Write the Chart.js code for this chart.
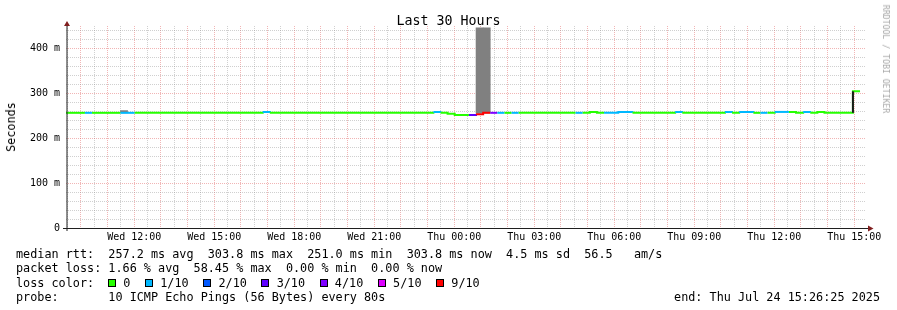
<!DOCTYPE html>
<html>
<head>
<meta charset="utf-8">
<script src="https://cdn.jsdelivr.net/npm/chart.js@4.4.1/dist/chart.umd.min.js"></script>
<style>
    html, body { margin: 0; padding: 0; background: #fff; }
    #wrap { position: relative; width: 897px; height: 310px; overflow: hidden;
            font-family: "DejaVu Sans Mono", monospace; color: #000; }
    #chart { position: absolute; left: 0; top: 0; }
    .txt { position: absolute; white-space: pre; }
    #title { left: 0; width: 897px; top: 12.5px; text-align: center; font-size: 13.3px; line-height: 16px; }
    .vert { transform: translate(-50%, -50%) rotate(-90deg); }
    #ylabel { left: 11px; top: 127px; font-size: 11.8px; line-height: 14px; }
    #credit { left: 886px; top: 59px; font-size: 8.2px; line-height: 10px; color: #a8a8a8;
              transform: translate(-50%, -50%) rotate(90deg); }
    .leg { left: 16px; font-size: 11.8px; line-height: 14px; }
    .items { position: absolute; left: 92px; top: 0; display: flex; }
    .item { margin-right: 14.5px; }
    .box { display: inline-block; width: 6px; height: 6px; border: 1px solid #000; margin-right: 7.3px; }
    #end { right: 17px; font-size: 11.8px; line-height: 14px; }
</style>
</head>
<body>
<div id="wrap">
    <canvas id="chart" width="897" height="310"></canvas>
    <div class="txt" id="title">Last 30 Hours</div>
    <div class="txt vert" id="ylabel">Seconds</div>
    <div class="txt" id="credit">RRDTOOL / TOBI OETIKER</div>
    <div class="txt leg" id="leg1" style="top: 247px"></div>
    <div class="txt leg" id="leg2" style="top: 261.3px"></div>
    <div class="txt leg" id="leg3" style="top: 275.5px"></div>
    <div class="txt leg" id="leg4" style="top: 289.8px"></div>
    <div class="txt" id="end" style="top: 289.8px"></div>
</div>
<script>

// time axis in hours counted from Wed Jul 23 00:00
const startHour = 9 + 26 / 60 + 25 / 3600;    // Wed 09:26:25
const endHour = 39 + 26 / 60 + 25 / 3600;     // Thu 15:26:25
const firstSample = 9 + 21 / 60;              // Wed 09:21
const sampleMinutes = 16;

// median rtt per sample (ms)
const medianMs = [
    256, 256, 256, 256, 256, 256, 256, 256, 256, 256,
    256, 256, 256, 256, 256, 256, 256, 256, 256, 256,
    256, 256, 256, 256, 256, 256, 256, 256, 258, 256,
    256, 256, 256, 256, 256, 256, 256, 256, 256, 256,
    256, 256, 256, 256, 256, 256, 256, 256, 256, 256,
    256, 256, 258, 256, 254, 251, 251, 251, 253, 256,
    256, 256, 256, 256, 256, 256, 256, 256, 256, 256,
    256, 256, 256, 256, 258, 256, 256, 256, 258, 258,
    256, 256, 256, 256, 256, 256, 258, 256, 256, 256,
    256, 256, 256, 258, 256, 258, 258, 256, 256, 256,
    258, 258, 258, 256, 258, 256, 258, 256, 256, 256,
    256, 303.8, 303.8
];

// packet loss per sample (pings lost out of 10)
const lossTenths = [
    0, 0, 0, 1, 0, 0, 0, 0, 1, 1,
    0, 0, 0, 0, 0, 0, 0, 0, 0, 0,
    0, 0, 0, 0, 0, 0, 0, 0, 1, 0,
    0, 0, 0, 0, 0, 0, 0, 0, 0, 0,
    0, 0, 0, 0, 0, 0, 0, 0, 0, 0,
    0, 0, 1, 0, 0, 0, 0, 3, 9, 9,
    4, 1, 0, 1, 0, 0, 0, 0, 0, 0,
    0, 0, 1, 0, 0, 0, 1, 1, 1, 1,
    0, 0, 0, 0, 0, 0, 1, 0, 0, 0,
    0, 0, 0, 1, 0, 1, 1, 0, 1, 0,
    1, 1, 0, 0, 1, 0, 0, 0, 0, 0,
    0, 0, 0
];

// smoke (spread of the pings) where it is visible
const smokeSamples = [8, 58, 59];
const smokeLowMs = [256, 255, 255];
const smokeHighMs = [261, 445, 445];

// loss colour scale, indexed by lost pings
const lossColors = ['#26ff00', '#00b8ff', '#0059ff', '#5e00ff', '#7e00ff', '#dd00ff',
                    '#ff0000', '#ff0000', '#ff0000', '#ff0000', '#ff0000'];
const legendLabels = ['0', '1/10', '2/10', '3/10', '4/10', '5/10', '9/10'];
const legendColors = ['#26ff00', '#00b8ff', '#0059ff', '#5e00ff', '#7e00ff', '#dd00ff', '#ff0000'];

const xTickHours = [12, 15, 18, 21, 24, 27, 30, 33, 36, 39];
const xTickLabels = ['Wed 12:00', 'Wed 15:00', 'Wed 18:00', 'Wed 21:00', 'Thu 00:00',
                     'Thu 03:00', 'Thu 06:00', 'Thu 09:00', 'Thu 12:00', 'Thu 15:00'];
const yTickValues = [0, 100, 200, 300, 400];
const yTickLabels = ['0', '100 m', '200 m', '300 m', '400 m'];
const yMax = 449;

const legendLines = [
    'median rtt:  257.2 ms avg  303.8 ms max  251.0 ms min  303.8 ms now  4.5 ms sd  56.5   am/s',
    'packet loss: 1.66 % avg  58.45 % max  0.00 % min  0.00 % now',
    'loss color:',
    'probe:       10 ICMP Echo Pings (56 Bytes) every 80s'
];
const endText = 'end: Thu Jul 24 15:26:25 2025';

// LEGEND TEXT

document.getElementById('leg1').textContent = legendLines[0];
document.getElementById('leg2').textContent = legendLines[1];
document.getElementById('leg3').textContent = legendLines[2];
document.getElementById('leg4').textContent = legendLines[3];
document.getElementById('end').textContent = endText;

const items = document.createElement('div');
items.className = 'items';
legendLabels.forEach((label, i) => {
    const item = document.createElement('span');
    item.className = 'item';
    const box = document.createElement('span');
    box.className = 'box';
    box.style.background = legendColors[i];
    item.appendChild(box);
    item.appendChild(document.createTextNode(label));
    items.appendChild(item);
});
document.getElementById('leg3').appendChild(items);

// DATA POINTS

const sampleHours = medianMs.map((v, i) => firstSample + i * sampleMinutes / 60);
const medianPoints = medianMs.map((v, i) => ({ x: sampleHours[i], y: v }));
const smokePoints = smokeSamples.map((s, i) => ({
    x: sampleHours[s] + sampleMinutes / 120,
    y: [smokeLowMs[i], smokeHighMs[i]]
}));

let jump = medianMs.length - 1;
while (jump > 0 && medianMs[jump] === medianMs[jump - 1]) jump--;
const jumpPoints = [
    { x: sampleHours[jump], y: medianMs[jump - 1] },
    { x: sampleHours[jump], y: medianMs[jump] }
];

// grid positions: every 30 min, every 20 ms
const xGrid = [];
for (let h = Math.ceil(startHour * 2) / 2; h <= endHour; h += 0.5) xGrid.push(h);
const yGrid = [];
for (let v = 0; v <= yMax; v += 20) yGrid.push(v);

const majorGrid = 'rgba(222, 79, 79, 0.42)';
const minorGrid = 'rgba(143, 143, 143, 0.42)';

// AXES AND ARROWS

const rrdAxes = {
    id: 'rrdAxes',
    afterDatasetsDraw(chart) {
        const { ctx, chartArea: a } = chart;
        ctx.save();
        ctx.strokeStyle = '#1f1f1f';
        ctx.lineWidth = 1;
        ctx.beginPath();
        ctx.moveTo(a.left + 1, a.bottom + 3);
        ctx.lineTo(a.left + 1, a.top - 2);
        ctx.moveTo(a.left - 3, a.bottom + 0.5);
        ctx.lineTo(a.right + 3, a.bottom + 0.5);
        ctx.stroke();

        ctx.fillStyle = '#801f1f';
        ctx.beginPath();
        ctx.moveTo(a.left + 1 - 3, a.top);
        ctx.lineTo(a.left + 1 + 3, a.top);
        ctx.lineTo(a.left + 1, a.top - 5);
        ctx.closePath();
        ctx.fill();
        ctx.beginPath();
        ctx.moveTo(a.right + 2, a.bottom + 0.5 - 3);
        ctx.lineTo(a.right + 2, a.bottom + 0.5 + 3);
        ctx.lineTo(a.right + 7.5, a.bottom + 0.5);
        ctx.closePath();
        ctx.fill();
        ctx.restore();
    }
};

const tickFont = { family: 'DejaVu Sans Mono', size: 10 };

new Chart(document.getElementById('chart'), {

    type: 'line',

    data: {
        datasets: [
            {
                type: 'bar',
                data: smokePoints,
                backgroundColor: '#808080',
                borderWidth: 0,
                barPercentage: 1,
                categoryPercentage: 1,
                grouped: false,
                order: 3
            },
            {
                data: medianPoints,
                stepped: 'before',
                borderWidth: 2,
                borderCapStyle: 'butt',
                pointRadius: 0,
                fill: false,
                segment: {
                    borderColor: ctx => lossColors[lossTenths[ctx.p0DataIndex]]
                },
                borderColor: lossColors[0],
                order: 2
            },
            {
                data: jumpPoints,
                borderColor: '#1a1a1a',
                borderWidth: 2,
                pointRadius: 0,
                fill: false,
                order: 1
            }
        ]
    },

    options: {
        responsive: false,
        animation: false,
        events: [],
        devicePixelRatio: 1,
        layout: {
            padding: { left: 0, top: 26, right: 31, bottom: 0 }
        },
        plugins: {
            legend: { display: false },
            tooltip: { enabled: false }
        },
        scales: {
            x: {
                type: 'linear',
                min: startHour,
                max: endHour,
                offset: false,
                afterBuildTicks: s => { s.ticks = xGrid.map(v => ({ value: v })); },
                afterFit: s => { s.height = 82; },
                ticks: {
                    autoSkip: false,
                    maxRotation: 0,
                    minRotation: 0,
                    padding: 3,
                    color: '#000',
                    font: tickFont,
                    callback: v => {
                        const i = xTickHours.indexOf(v);
                        return i < 0 ? '' : xTickLabels[i];
                    }
                },
                grid: {
                    offset: false,
                    drawTicks: false,
                    lineWidth: 1,
                    color: c => (c.tick && c.tick.value % 1 === 0) ? majorGrid : minorGrid
                },
                border: { display: false, dash: [1, 1] }
            },
            y: {
                type: 'linear',
                min: 0,
                max: yMax,
                afterBuildTicks: s => { s.ticks = yGrid.map(v => ({ value: v })); },
                afterFit: s => { s.width = 66; },
                ticks: {
                    autoSkip: false,
                    padding: 6,
                    color: '#000',
                    font: tickFont,
                    callback: v => {
                        const i = yTickValues.indexOf(v);
                        return i < 0 ? '' : yTickLabels[i];
                    }
                },
                grid: {
                    drawTicks: false,
                    lineWidth: 1,
                    color: c => {
                        if (!c.tick || c.tick.value === 0) return 'rgba(0,0,0,0)';
                        return c.tick.value % 100 === 0 ? majorGrid : minorGrid;
                    }
                },
                border: { display: false, dash: [1, 1] }
            }
        }
    },

    plugins: [rrdAxes]
});
</script>
</body>
</html>
